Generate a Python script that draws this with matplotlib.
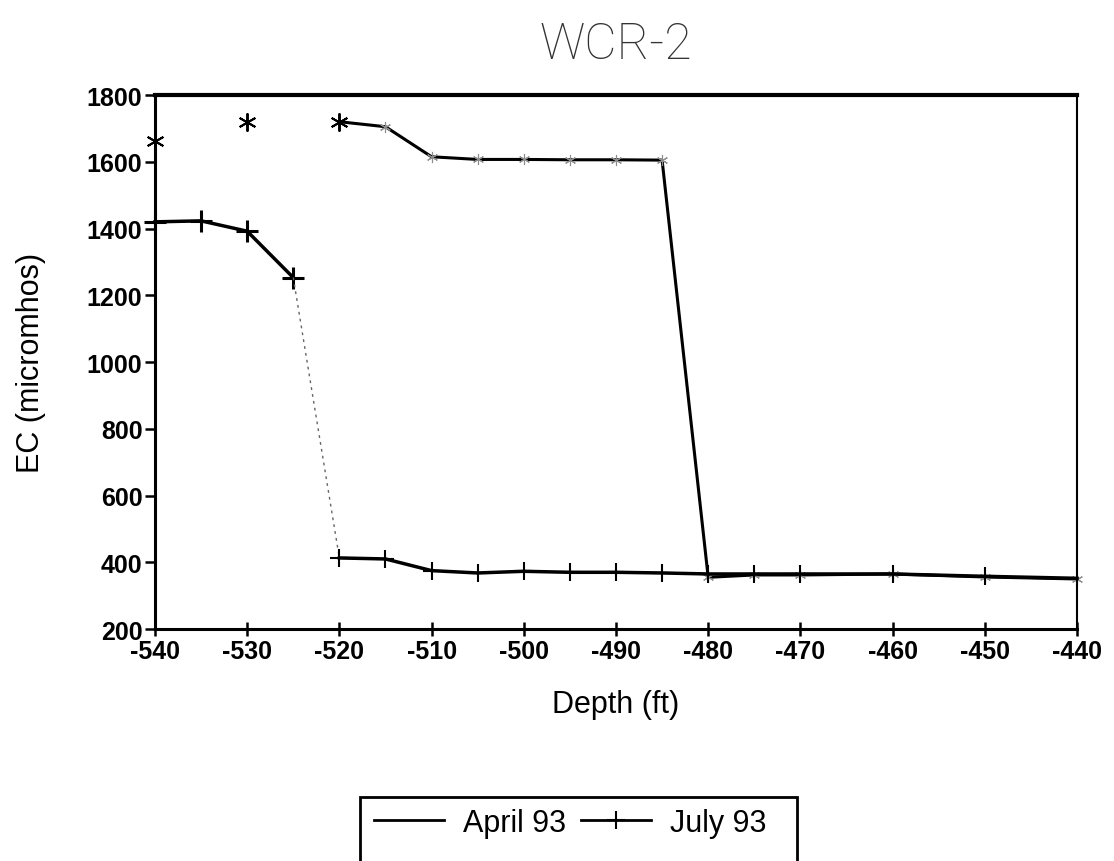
import numpy as np
import matplotlib
matplotlib.use("Agg")
import matplotlib.pyplot as plt
from matplotlib.lines import Line2D
from matplotlib.patches import Rectangle

plt.rcParams['font.family'] = ['Liberation Sans', 'DejaVu Sans']
plt.rcParams['axes.unicode_minus'] = False

depth = [-540, -535, -530, -525, -520, -515, -510, -505, -500, -495,
         -490, -485, -480, -475, -470, -460, -450, -440]
april = [1662, np.nan, 1718, np.nan, 1720, 1705, 1615, 1607, 1607, 1606,
         1606, 1605, 355, 362, 362, 365, 356, 350]
july = [1420, 1423, 1392, 1253, 413, 410, 375, 368, 373, 370,
        370, 368, 365, 365, 365, 365, 358, 352]
xticks = list(range(-540, -439, 10))
yticks = list(range(200, 1801, 200))

fig = plt.figure(figsize=(11.14, 8.62), dpi=100)
ax = fig.add_axes([0.1391, 0.2691, 0.8277, 0.6195])

# April line, big asterisks where the points stand alone, faint ones elsewhere
ax.plot(depth, april, color='black', lw=2.2, clip_on=False)
ax.plot(depth, april, ls='none', color='black', marker=(6, 2, 0), ms=13, mew=1.4,
        markevery=[0, 2, 4], clip_on=False)
ax.plot(depth, april, ls='none', color='0.55', marker=(6, 2, 0), ms=8, mew=0.8,
        markevery=list(range(5, 18)), clip_on=False)

# July: solid, with a faint dotted jump between -525 and -520
ax.plot(depth[:4], july[:4], color='black', lw=2.5, marker='+', ms=16, mew=2.2, clip_on=False)
ax.plot(depth[3:5], july[3:5], color='0.4', lw=1.0, ls=(0, (2, 3)))
ax.plot(depth[4:], july[4:], color='black', lw=2.5, marker='+', ms=13, mew=1.5,
        markevery=list(range(0, 13)), clip_on=False)

ax.set_xlim(-540, -440)
ax.set_ylim(200, 1800)
ax.set_xticks(xticks)
ax.set_yticks(yticks)
ax.tick_params(axis='x', direction='inout', length=10, width=1.8, labelsize=18, pad=2)
ax.tick_params(axis='y', direction='out', length=7, width=1.8, labelsize=18, pad=2)
for lab in ax.get_xticklabels() + ax.get_yticklabels():
    lab.set_fontweight('bold')

for side in ['left', 'bottom']:
    ax.spines[side].set_linewidth(2.2)
ax.spines['top'].set_linewidth(3)
ax.spines['right'].set_linewidth(1.5)

ax.set_xlabel('Depth (ft)', fontsize=22)
ax.set_ylabel('EC (micromhos)', fontsize=22)
ax.xaxis.set_label_coords(0.5, -0.112)
ax.yaxis.set_label_coords(-0.118, 0.5)

fig.text(616 / 1114, 1 - 45 / 862, 'WCR-2', ha='center', va='center',
         fontsize=36, family=['Roboto', 'DejaVu Sans'], fontweight='light',
         fontstretch='condensed', color='0.2')

handles = [Line2D([], [], color='black', lw=2),
           Line2D([], [], color='black', lw=2, marker='+', ms=13, mew=1.5)]
fig.legend(handles, ['April 93', 'July 93'], loc='center', ncol=2, frameon=False,
           bbox_to_anchor=(570 / 1114, 1 - 824 / 862), fontsize=22,
           handlelength=2.3, handletextpad=0.6, columnspacing=0.5)
fig.patches.append(Rectangle((360 / 1114, -0.05), (797 - 360) / 1114, 0.05 + 1 - 798 / 862,
                             transform=fig.transFigure, fill=False, lw=2, color='black'))

fig.savefig('out.png', dpi=100)
